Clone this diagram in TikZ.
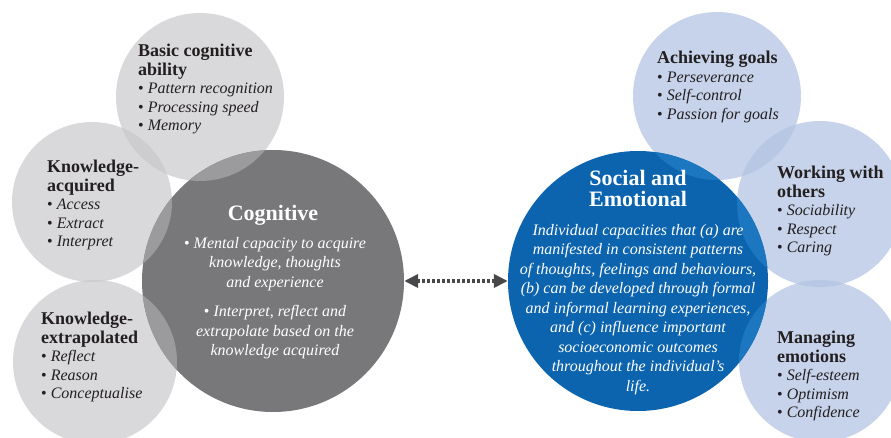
\documentclass[tikz,border=0pt]{standalone}
\usepackage{fontspec}
\setmainfont{Liberation Serif}
\usetikzlibrary{arrows.meta}

\definecolor{greylight}{HTML}{D9D9DB}
\definecolor{greymid}{HTML}{CDCDD0}
\definecolor{greydark}{HTML}{78787B}
\definecolor{greyover}{HTML}{9B9B9E}
\definecolor{bluelight}{HTML}{C6D3EA}
\definecolor{bluemid}{HTML}{B8C7E3}
\definecolor{bluedark}{HTML}{0C64AF}
\definecolor{blueover}{HTML}{1C76C0}
\definecolor{inkdark}{HTML}{231F20}
\definecolor{arrowgrey}{HTML}{48484A}

\newcommand{\hd}[1]{{\normalfont\bfseries\fontsize{18}{18.5}\selectfont #1}}
\newcommand{\itm}[1]{\textbullet\ \textit{#1}}

\tikzset{
  bubble/.style={circle, inner sep=0pt, minimum size=#1},
  facet/.style={anchor=north west, inner sep=0pt, align=left, text=inkdark,
    font=\fontsize{16}{18.5}\selectfont},
  core/.style={anchor=north, inner sep=0pt, align=center, text=white,
    font=\fontsize{16}{19.5}\selectfont},
  coretitle/.style={anchor=north, inner sep=0pt, align=center, text=white,
    font=\bfseries\fontsize{22}{21}\selectfont},
}

\begin{document}
\begin{tikzpicture}[x=1pt,y=-1pt]
	\useasboundingbox (0,0) rectangle (891,438);
	\clip (0,0) rectangle (891,438);

	% cognitive side
	\node[bubble=168pt, fill=greylight] (basic) at (200,97) {};
	\node[bubble=160pt, fill=greylight] (acquired) at (92,202) {};
	\node[bubble=164pt, fill=greylight] (extrap) at (95,362) {};
	\begin{scope}
		\clip (basic.center) circle (84);
		\fill[greymid] (acquired.center) circle (80);
	\end{scope}
	\begin{scope}
		\clip (acquired.center) circle (80);
		\fill[greymid] (extrap.center) circle (82);
	\end{scope}
	\node[bubble=262pt, fill=greydark] (cog) at (273,281) {};
	\begin{scope}
		\clip (cog.center) circle (131);
		\fill[greyover] (basic.center) circle (84);
		\fill[greyover] (acquired.center) circle (80);
		\fill[greyover] (extrap.center) circle (82);
	\end{scope}

	% social and emotional side
	\node[bubble=168pt, fill=bluelight] (goals) at (717,96) {};
	\node[bubble=166pt, fill=bluelight] (others) at (820,204) {};
	\node[bubble=162pt, fill=bluelight] (emotions) at (820,361) {};
	\begin{scope}
		\clip (goals.center) circle (84);
		\fill[bluemid] (others.center) circle (83);
	\end{scope}
	\begin{scope}
		\clip (others.center) circle (83);
		\fill[bluemid] (emotions.center) circle (81);
	\end{scope}
	\node[bubble=260pt, fill=bluedark] (social) at (638,281) {};
	\begin{scope}
		\clip (social.center) circle (130);
		\fill[blueover] (goals.center) circle (84);
		\fill[blueover] (others.center) circle (83);
		\fill[blueover] (emotions.center) circle (81);
	\end{scope}

	% texts
	\node[facet] (basictxt) at (138,44) {\hd{Basic cognitive}\\\hd{ability}\\
		\itm{Pattern recognition}\\\itm{Processing speed}\\\itm{Memory}};
	\node[facet] (acqtxt) at (47,160) {\hd{Knowledge-}\\\hd{acquired}\\
		\itm{Access}\\\itm{Extract}\\\itm{Interpret}};
	\node[facet] (extraptxt) at (41,312) {\hd{Knowledge-}\\\hd{extrapolated}\\
		\itm{Reflect}\\\itm{Reason}\\\itm{Conceptualise}};
	\node[coretitle] (cogtitle) at (273,205) {Cognitive};
	\node[core] (cogtxt) at (275,237) {\textbullet\ \textit{Mental capacity to acquire}\\
		\textit{knowledge, thoughts}\\\textit{and experience}\\[10pt]
		\textbullet\ \textit{Interpret, reflect and}\\\textit{extrapolate based on the}\\
		\textit{knowledge acquired}};

	\node[facet] (goalstxt) at (657,51) {\hd{Achieving goals}\\
		\itm{Perseverance}\\\itm{Self-control}\\\itm{Passion for goals}};
	\node[facet] (otherstxt) at (777,166) {\hd{Working with}\\\hd{others}\\
		\itm{Sociability}\\\itm{Respect}\\\itm{Caring}};
	\node[facet] (emotionstxt) at (777,331) {\hd{Managing}\\\hd{emotions}\\
		\itm{Self-esteem}\\\itm{Optimism}\\\itm{Confidence}};
	\node[coretitle] (soctitle) at (638,170) {Social and\\Emotional};
	\node[core] (soctxt) at (638,224) {\itshape Individual capacities that (a) are\\
		\itshape manifested in consistent patterns\\
		\itshape of thoughts, feelings and behaviours,\\
		\itshape (b) can be developed through formal\\
		\itshape and informal learning experiences,\\
		\itshape and (c) influence important\\
		\itshape socioeconomic outcomes\\
		\itshape throughout the individual's\\
		\itshape life.};

	% link
	\draw[arrowgrey, line width=4pt, dash pattern=on 3pt off 2pt,
		{Triangle[length=14pt,width=13pt]}-{Triangle[length=14pt,width=13pt]}]
		(cog.east) -- (social.west);
\end{tikzpicture}
\end{document}
